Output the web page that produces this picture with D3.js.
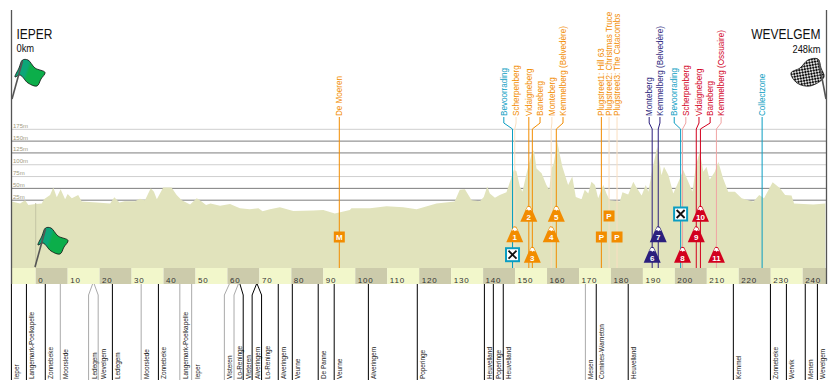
<!DOCTYPE html>
<html>
<head>
<meta charset="utf-8">
<script src="https://cdn.jsdelivr.net/npm/d3@7"></script>
<style>
  html, body { margin: 0; padding: 0; background: #fff; }
  svg { display: block; }
  text { font-family: "Liberation Sans", sans-serif; }
</style>
</head>
<body>
<div id="chart"></div>
<script>
// Profile: km and height in metres (De Moeren really is below sea level)
var profileKm = [-7.5,-4.9,-3.3,-2.3,0,1.9,2.6,4.5,5.5,6.6,7.8,9.2,10,11.3,13.3,14.4,19.1,23.3,24.6,26.2,27.9,31.1,32.6,34.2,36,37,37.9,39.9,42.5,44.1,45.7,48.3,50.4,51.9,53.3,54.7,57.7,60.8,63.9,67,69.7,71,73.3,76.4,80.6,86.8,90,93.6,98.3,98.8,104.6,109.8,115,119.2,125.4,131.1,132.7,134.3,136.4,139,140.2,141.3,142.1,143.7,145.2,147.3,148.4,149.6,150.4,151.5,152.3,153.6,155.1,155.9,156.7,158.3,159.8,160.7,161.4,162.1,163.2,164,164.8,166.6,167.9,169,170.8,171.8,172.9,173.9,175,176,177.6,178.6,179.6,182.8,183.6,185.4,187,187.8,189.6,190.9,191.7,193,194.5,195.8,196.6,198,199.5,201.4,202.6,204.2,205.5,206.6,207.8,208.9,209.9,210.9,212.5,213.6,215.1,216.7,218.8,220.9,223.5,224.6,226.4,227.9,230.6,232.9,234.5,236.5,237.3,243.3,247.1];
var profileM = [22,18,25,15,17,18,27,36,52,31,48,27,38,29,36,22,20,18,31,20,23,23,28,25,50,43,27,52,52,36,25,16,29,22,15,18,13,17,8,6,8,1.5,6,10,2,3,4,-3,4,8,8,12,10,6,18,22,47,48,25,23,32,54,39,30,36,42,64,89,87,54,43,82,121,131,92,82,57,47,92,103,149,121,96,57,75,32,27,47,39,64,57,29,57,39,25,22,42,37,64,54,35,57,43,92,138,78,96,78,39,68,89,64,43,99,128,85,96,68,85,106,71,43,43,29,24,22,36,29,63,50,36,35,18,16,18];

var gridHeights = [175, 150, 125, 100, 75, 50, 25];
var gridDark = [false, true, true, false, false, true, true];
var kmTicks = d3.range(0, 250, 10);

var markerNames = ['De Moeren','Bevoorrading','Scherpenberg','Vidaigneberg','Baneberg','Monteberg','Kemmelberg (Belvedère)','Plugstreet1: Hill 63','Plugstreet2: Christmas Truce','Plugstreet3: The Catacombs','Monteberg','Kemmelberg (Belvedère)','Bevoorrading','Scherpenberg','Vidaigneberg','Baneberg','Kemmelberg (Ossuaire)','Collectzone'];
var markerKm = [95,149.2,149.9,154.3,155.4,161.3,162.9,177,179.4,181.9,192.9,194.8,201.8,202.4,206.7,208,213,227.3];
var markerKind = ['orange','teal','orange','orange','orange','orange','orange','orange','orange','orange','navy','navy','teal','red','red','red','red','teal'];
var markerFaded = [false,false,true,false,false,true,false,false,true,true,false,false,false,true,false,false,true,false];

var climbNumbers = ['1','2','3','4','5','6','7','8','9','10','11'];
var climbKm = [149.9,154.3,155.4,161.3,162.9,192.9,194.8,202.4,206.7,208,213];
var climbKind = ['orange','orange','orange','orange','orange','navy','navy','red','red','red','red'];

var townNames = ['Ieper','Langemark-Poelkapelle','Zonnebeke','Moorslede','Ledegem','Wevelgem','Ledegem','Moorslede','Zonnebeke','Langemark-Poelkapelle','Ieper','Vlsteren','Lo-Reninge','Vleteren','Alveringem','Lo-Reninge','Alveringem','Veurne','De Panne','Veurne','Alveringem','Poperinge','Heuvelland','Poperinge','Heuvelland','Mesen','Comines-Warneton','Heuvelland','Kemmel','Zonnebeke','Wervik','Menen','Wevelgem'];
var townKm = [-7.6,-2.9,3,7.7,17.8,18.3,24,33,38.4,45.1,48.8,60.6,63.4,63.9,69.1,69.3,75.9,80.3,88.4,93.4,104.1,119.4,140.4,143.2,146.3,172,175.4,185.4,218.3,229.9,234.9,240.8,244.6];
var townGrey = [false,false,false,true,true,true,false,true,false,true,true,true,true,false,false,false,false,false,false,false,false,false,false,false,false,true,false,false,false,false,false,false,false];

// Layout, kept apart from the values above
var width = 837, height = 391;
var axisLeft = 11.5, axisRight = 826.5, axisTop = 10;
var bandTop = 268, bandBottom = 284;
var townTop = 284, townKink = 295, townBottom = 380;
var markerTextY = 116;
var markerLabelDx = [0,-8.7,1.3,0,7.7,0.7,6.7,0,0,0,-3,1.7,-6.4,3.3,2.7,9.7,4.7,0];
var climbBaseY = [242.3,221.7,262.7,242.3,221.7,262.7,242.3,262.7,242.3,221.7,262.7];
var townDx = [0,0,0,0,-4,4,0,0,0,0,0,-5,-4.3,3.3,-4.4,4.4,0,0,0,0,0,0,0,0,0,0,0,0,0,0,0,0,0];
var strong = { orange: '#f28c00', teal: '#0a9dc2', navy: '#2b1f7d', red: '#d2001e' };
var pale = { orange: '#fbdfc0', teal: '#8fd3e4', navy: '#9a94c4', red: '#f0a3a3' };

var svg = d3.select('#chart').append('svg')
    .attr('width', width)
    .attr('height', height)
    .attr('viewBox', `0 0 ${width} ${height}`);

var xScale = d3.scaleLinear().domain([0, 240]).range([35.7, 802.7]);
var yScale = d3.scaleLinear().domain([0, 175]).range([212, 129.3]);

var defs = svg.append('defs');
var checker = defs.append('pattern')
    .attr('id', 'checker')
    .attr('width', 4).attr('height', 4)
    .attr('patternUnits', 'userSpaceOnUse')
    .attr('patternTransform', 'rotate(35)');
checker.append('rect').attr('width', 4).attr('height', 4).attr('fill', '#ddd');
checker.append('rect').attr('width', 2).attr('height', 2).attr('fill', '#111');
checker.append('rect').attr('x', 2).attr('y', 2).attr('width', 2).attr('height', 2).attr('fill', '#111');
var greenFade = defs.append('linearGradient').attr('id', 'greenFade').attr('x1', 0).attr('x2', 1).attr('y1', 0).attr('y2', 0.3);
greenFade.append('stop').attr('offset', '45%').attr('stop-color', '#0ca678');
greenFade.append('stop').attr('offset', '55%').attr('stop-color', '#0cae4a');

// Grid
svg.append('g').selectAll('line')
    .data(gridHeights)
    .join('line')
    .attr('x1', axisLeft)
    .attr('x2', axisRight)
    .attr('y1', d => yScale(d))
    .attr('y2', d => yScale(d))
    .attr('stroke', (d, i) => gridDark[i] ? '#7d7d7d' : '#cfcfcf')
    .attr('stroke-width', 1);

svg.append('g').selectAll('text')
    .data(gridHeights)
    .join('text')
    .attr('x', 13)
    .attr('y', d => yScale(d) - 1.5)
    .attr('font-size', 6)
    .attr('fill', '#a09a80')
    .text(d => d + 'm');

// Profile
var area = d3.area()
    .x(d => xScale(d[0]))
    .y0(bandTop)
    .y1(d => yScale(d[1]));

svg.append('path')
    .datum(d3.zip(profileKm, profileM))
    .attr('d', area)
    .attr('fill', '#e1e3bc');

// Km bands
var bandStarts = [-7.6].concat(kmTicks);
svg.append('g').selectAll('rect')
    .data(bandStarts)
    .join('rect')
    .attr('x', d => xScale(d))
    .attr('y', bandTop)
    .attr('width', d => {
        var end = d < 0 ? 0 : Math.min(d + 10, 247.5);
        return xScale(end) - xScale(d);
    })
    .attr('height', bandBottom - bandTop)
    .attr('fill', d => (d >= 0 && d % 20 === 0) ? '#cccbab' : '#f2f7cb');

var kmAxis = d3.axisBottom(xScale).tickValues(kmTicks).tickSize(0).tickFormat(d3.format('d'));
var kmAxisG = svg.append('g')
    .attr('transform', `translate(0,${bandTop})`)
    .call(kmAxis);
kmAxisG.select('.domain').remove();
kmAxisG.selectAll('text')
    .attr('text-anchor', 'start')
    .attr('dx', 2)
    .attr('y', 11.5)
    .attr('dy', '0.4em')
    .attr('font-family', '"Liberation Sans", sans-serif')
    .attr('font-size', 8)
    .attr('letter-spacing', 0.8)
    .attr('fill', '#333');

// Frame
svg.append('g').selectAll('line')
    .data([axisLeft, axisRight])
    .join('line')
    .attr('x1', d => d).attr('x2', d => d)
    .attr('y1', axisTop).attr('y2', bandBottom)
    .attr('stroke', '#555').attr('stroke-width', 1.3);

// Marker lines and labels
var markers = d3.zip(markerNames, markerKm, markerKind, markerFaded, markerLabelDx);
var markerG = svg.append('g').selectAll('g')
    .data(markers)
    .join('g');

markerG.append('path')
    .attr('d', d => {
        var x = xScale(d[1]);
        return `M${x + d[4]},${markerTextY + 1}V123L${x},129V${bandTop}`;
    })
    .attr('fill', 'none')
    .attr('stroke', d => d[3] ? pale[d[2]] : strong[d[2]])
    .attr('stroke-width', 1);

markerG.append('text')
    .attr('transform', d => `translate(${xScale(d[1]) + d[4] + 3},${markerTextY}) rotate(-90) scale(0.9,1)`)
    .attr('font-size', 9)
    .attr('fill', d => strong[d[2]])
    .text(d => d[0]);

// Climb badges
var climbs = d3.zip(climbNumbers, climbKm, climbKind, climbBaseY);
var climbG = svg.append('g').selectAll('g')
    .data(climbs)
    .join('g')
    .attr('transform', d => `translate(${xScale(d[1])},${d[3]})`);

climbG.append('path')
    .attr('d', 'M-8.5,0L-3,-12.5L-1,-16L1.5,-15.5L3.5,-11.5L8.5,0Z')
    .attr('fill', d => strong[d[2]]);
climbG.append('path')
    .attr('d', 'M-3,-11.5L-1,-15L1.3,-14.5L3,-11L1.5,-12L0,-11L-1.2,-12.2Z')
    .attr('fill', '#fff');
climbG.append('text')
    .attr('y', -2)
    .attr('text-anchor', 'middle')
    .attr('font-size', 8)
    .attr('font-weight', 'bold')
    .attr('fill', '#fff')
    .text(d => d[0]);

// Square signs
var squareSigns = [
    { label: 'M', km: markerKm[0], y: 237 },
    { label: 'P', km: markerKm[7], y: 237 },
    { label: 'P', km: markerKm[8], y: 216 },
    { label: 'P', km: markerKm[9], y: 237 }
];
var signG = svg.append('g').selectAll('g')
    .data(squareSigns)
    .join('g')
    .attr('transform', d => `translate(${xScale(d.km)},${d.y})`);
signG.append('rect')
    .attr('x', -5.5).attr('y', -5.5)
    .attr('width', 11).attr('height', 11)
    .attr('fill', '#f28c00');
signG.append('text')
    .attr('y', 3)
    .attr('text-anchor', 'middle')
    .attr('font-size', 8)
    .attr('font-weight', 'bold')
    .attr('fill', '#fff')
    .text(d => d.label);

// Feed zones
var feedSigns = [
    { km: markerKm[1], y: 254.7 },
    { km: markerKm[12], y: 214 }
];
var feedG = svg.append('g').selectAll('g')
    .data(feedSigns)
    .join('g')
    .attr('transform', d => `translate(${xScale(d.km)},${d.y})`);
feedG.append('rect')
    .attr('x', -6.5).attr('y', -6.5)
    .attr('width', 13).attr('height', 13)
    .attr('fill', '#fff')
    .attr('stroke', '#0a9dc2')
    .attr('stroke-width', 2);
feedG.append('path')
    .attr('d', 'M-4,-4L4,4M4,-4L-4,4')
    .attr('stroke', '#111')
    .attr('stroke-width', 1.8);

// Flags
var blob = d3.line().curve(d3.curveCatmullRomClosed);
var greenOutline = [[15,77],[19,68],[22.5,60],[28,60],[35,68],[45,72.5],[41,79],[37,86],[28,83],[20,75]];
var checkOutline = [[791,73],[800,68],[808,60],[818,59],[821,68],[824,77],[810,86],[797,83]];

function greenFlag(dx, dy) {
    var g = svg.append('g').attr('transform', `translate(${dx},${dy})`);
    g.append('path')
        .attr('d', blob(greenOutline))
        .attr('fill', 'url(#greenFade)')
        .attr('stroke', '#111')
        .attr('stroke-width', 0.8);
    g.append('line')
        .attr('x1', 12).attr('y1', 99).attr('x2', 22.5).attr('y2', 61)
        .attr('stroke', '#555').attr('stroke-width', 1.6);
}
svg.append('line')
    .attr('x1', xScale(0)).attr('x2', xScale(0))
    .attr('y1', 203).attr('y2', bandTop)
    .attr('stroke', '#c4c6a6');
greenFlag(0, 0);
greenFlag(23, 168);

svg.append('path')
    .attr('d', blob(checkOutline))
    .attr('fill', 'url(#checker)')
    .attr('stroke', '#111')
    .attr('stroke-width', 0.8);
svg.append('line')
    .attr('x1', 826).attr('y1', 99).attr('x2', 818.5).attr('y2', 60)
    .attr('stroke', '#555').attr('stroke-width', 1.6);

// Start and finish
svg.append('text').attr('transform', 'translate(16.5,39) scale(0.8,1)').attr('font-size', 15).attr('fill', '#111').text('IEPER');
svg.append('text').attr('transform', 'translate(16.5,52) scale(0.85,1)').attr('font-size', 11).attr('fill', '#111').text('0km');
svg.append('text').attr('transform', 'translate(820.5,39) scale(0.8,1)').attr('font-size', 15).attr('text-anchor', 'end').attr('fill', '#111').text('WEVELGEM');
svg.append('text').attr('transform', 'translate(820.5,53) scale(0.85,1)').attr('font-size', 11).attr('text-anchor', 'end').attr('fill', '#111').text('248km');

// Towns below the bands
var towns = d3.zip(townNames, townKm, townGrey, townDx);
var townG = svg.append('g').selectAll('g')
    .data(towns)
    .join('g');

townG.append('path')
    .attr('d', d => {
        var x = xScale(d[1]);
        return d[3] === 0
            ? `M${x},${townTop}V${townBottom}`
            : `M${x},${townTop}L${x + d[3]},${townKink}V${townBottom}`;
    })
    .attr('fill', 'none')
    .attr('stroke', d => d[2] ? '#aaa' : '#000')
    .attr('stroke-width', 1);

townG.append('text')
    .attr('transform', d => `translate(${xScale(d[1]) + d[3] + 8},${townBottom - 1}) rotate(-90) scale(0.8,1)`)
    .attr('font-size', 8)
    .attr('fill', '#222')
    .text(d => d[0]);
</script>
</body>
</html>
